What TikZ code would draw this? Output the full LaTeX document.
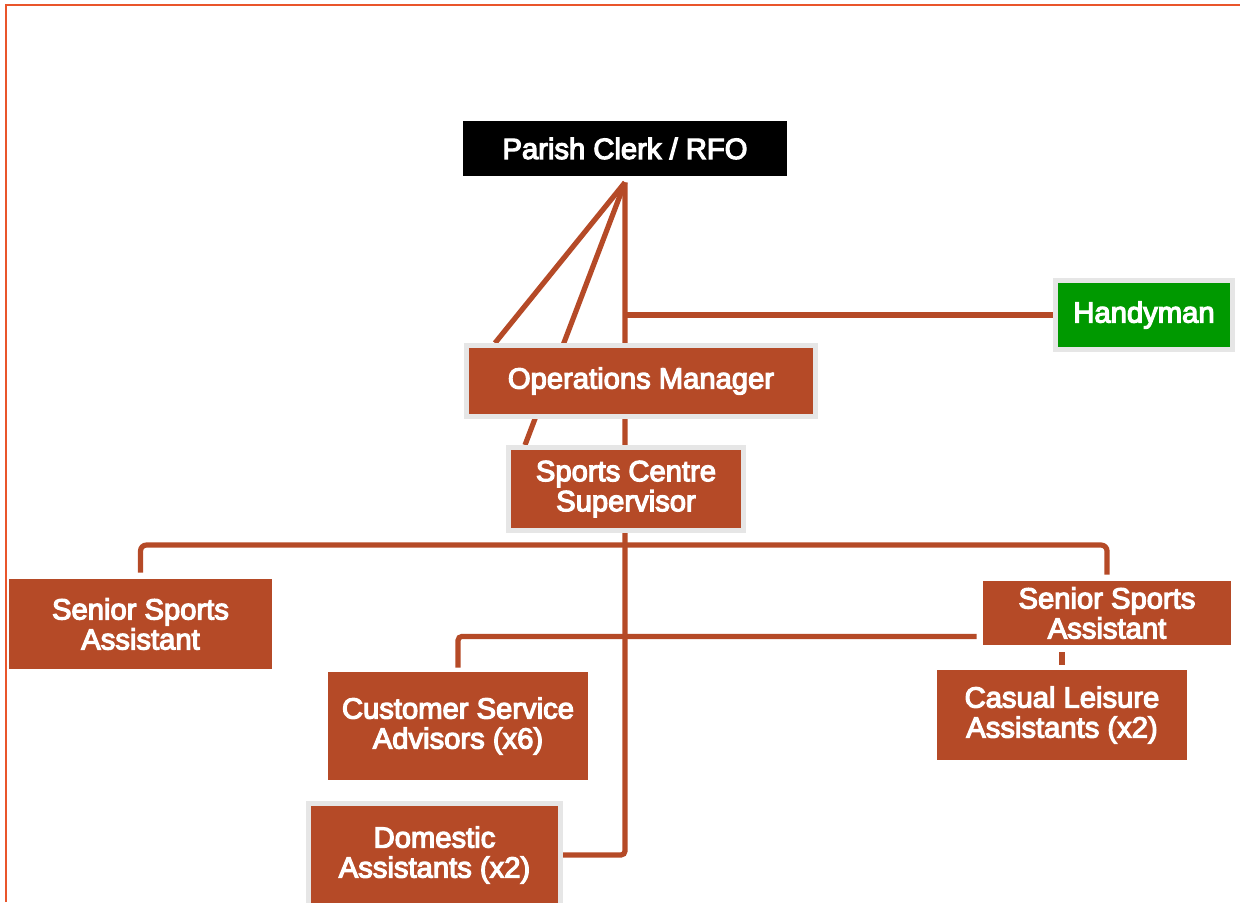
\documentclass[tikz,border=0pt]{standalone}
\usepackage{fontspec}
\newfontfamily\orgfont{Liberation Sans}
\usetikzlibrary{positioning,calc,backgrounds}
\definecolor{rust}{HTML}{B54A27}
\definecolor{edgegrey}{HTML}{E6E6E6}
\definecolor{pageframe}{HTML}{E9552B}
\definecolor{handygreen}{HTML}{009900}
% slightly heavier white lettering
\newcommand{\heavytext}{\special{pdf:literal direct 2 Tr 0.6 w}}

\begin{document}
\begin{tikzpicture}[x=0.5pt,y=-0.5pt]
\tikzset{post/.style={rectangle,fill=rust,text=white,font=\orgfont\fontsize{14.6}{15}\selectfont\heavytext,align=center,inner sep=0pt},
framed/.style={draw=edgegrey,line width=2.5pt},
link/.style={draw=rust,line width=2.6pt}}
\useasboundingbox (0,0) rectangle (1240,902);
\clip (0,0) rectangle (1240,902);
\draw[pageframe,line width=1.2pt](6,902) -- (6,5) -- (1240,5);
\node[post,fill=black,minimum width=162pt,minimum height=27.5pt](clerk) at (625,148.5){Parish Clerk / RFO};
\node[post,framed,fill=handygreen,minimum width=88.5pt,minimum height=34.5pt](handy) at (1144,315){Handyman};
\node[post,framed,minimum width=174.5pt,minimum height=35.5pt](ops) at (641,381){Operations Manager};
\node[post,framed,minimum width=117.5pt,minimum height=41.5pt](scs) at (626,489){Sports Centre\\Supervisor};
\node[post,minimum width=131.5pt,minimum height=45pt](ssaL) at (140.5,624){Senior Sports\\Assistant};
\node[post,minimum width=124pt,minimum height=32pt](ssaR) at (1107,613){Senior Sports\\Assistant};
\node[post,minimum width=130pt,minimum height=54pt](csa) at (458,726){Customer Service\\Advisors (x6)};
\node[post,minimum width=125pt,minimum height=45pt](casual) at (1062,715){Casual Leisure\\Assistants (x2)};
\node[post,framed,minimum width=126pt,minimum height=51.5pt](dom) at (434.5,855){Domestic\\Assistants (x2)};
\begin{scope}[on background layer]
\coordinate (hub) at ([yshift=-3pt]clerk.south);
\draw[link](hub) -- ([xshift=15.5pt]ops.north west);
\draw[link](hub) -- ([xshift=9.5pt]scs.north west);
\draw[link,rounded corners=2pt](hub) |- (dom.east);
\draw[link](hub |- handy.west) -- (handy.west);
\draw[link,rounded corners=3pt,shorten <=3pt,shorten >=3pt](ssaL.north) |- ([yshift=-6pt]scs.south) -| (ssaR.north);
\draw[link,rounded corners=2pt,shorten >=2pt]([xshift=-3pt,yshift=4.5pt]ssaR.south west) -| (csa.north);
\draw[link,shorten <=3.5pt,shorten >=2.5pt](ssaR.south -| casual.north) -- (casual.north);
\end{scope}
\end{tikzpicture}
\end{document}
